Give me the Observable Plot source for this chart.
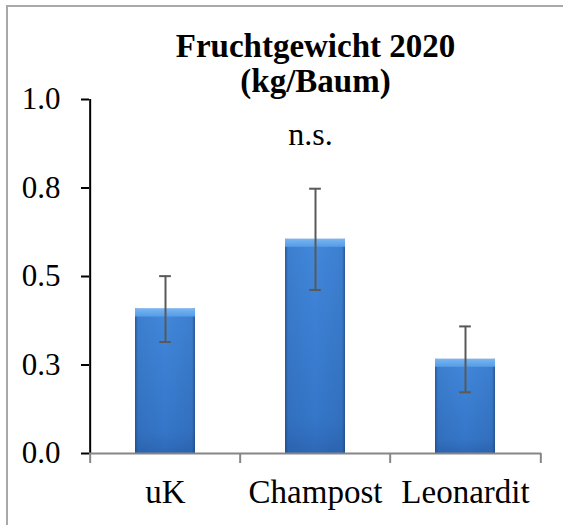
<!DOCTYPE html>
<html>
<head>
<meta charset="utf-8">
<script src="https://cdn.jsdelivr.net/npm/d3@7"></script>
<script src="https://cdn.jsdelivr.net/npm/@observablehq/plot@0.6"></script>
<style>
  html, body { margin: 0; padding: 0; background: #fff; overflow: hidden; }
  #wrap { position: relative; width: 563px; height: 525px; overflow: hidden; background: #fff; }
  #btop { position: absolute; left: 6px; top: 5px; width: 557px; height: 2px; background: #a9a9a9; }
  #bleft { position: absolute; left: 6px; top: 5px; width: 2px; height: 520px; background: #a9a9a9; }
  #wrap svg { position: absolute; left: 0; top: 0; }
</style>
</head>
<body>
<div id="wrap"><div id="btop"></div><div id="bleft"></div></div>
<script>
// ---- data ----
const categories = ["uK", "Champost", "Leonardit"];
const means = [0.408, 0.605, 0.266];
const errors = [0.093, 0.143, 0.093];
const yTicks = [0, 0.25, 0.5, 0.75, 1.0];
const yTickLabels = ["0.0", "0.3", "0.5", "0.8", "1.0"];
const titleLines = ["Fruchtgewicht 2020", "(kg/Baum)"];
const annotation = ["n.s."];
const annotationCategory = "Champost";

const rows = categories.map((c, i) => ({cat: c, mean: means[i], lo: means[i] - errors[i], hi: means[i] + errors[i]}));

// ---- layout ----
const W = 563, H = 525;
const mL = 89, mR = 22, mT = 99, mB = 72;
const padInner = 0.6, padOuter = 0.3;
const font = "Liberation Serif";

const xs = Plot.scale({x: {type: "band", domain: categories, range: [mL, W - mR], paddingInner: padInner, paddingOuter: padOuter}});
const step = xs.step ?? (W - mL - mR) / (categories.length - padInner + 2 * padOuter);
const bw = xs.bandwidth ?? step * (1 - padInner);

const chart = Plot.plot({
  width: W, height: H,
  marginLeft: mL, marginRight: mR, marginTop: mT, marginBottom: mB,
  style: {fontFamily: font, background: "transparent", overflow: "visible"},
  x: {type: "band", domain: categories, paddingInner: padInner, paddingOuter: padOuter, axis: null},
  y: {domain: [0, 1], axis: null},
  marks: [
    // bars
    Plot.barY(rows, {x: "cat", y: "mean", fill: "url(#barV)"}),
    Plot.barY(rows, {x: "cat", y: "mean", fill: "url(#barEdge)"}),
    Plot.barY(rows, {x: "cat", y1: "mean", y2: "mean", insetBottom: -8, fill: "url(#bevel)"}),
    // error bars
    Plot.ruleX(rows, {x: "cat", y1: "lo", y2: "hi", stroke: "#595959", strokeWidth: 2}),
    Plot.tickY(rows, {x: "cat", y: "hi", stroke: "#595959", strokeWidth: 2, insetLeft: (bw - 12) / 2, insetRight: (bw - 12) / 2}),
    Plot.tickY(rows, {x: "cat", y: "lo", stroke: "#595959", strokeWidth: 2, insetLeft: (bw - 12) / 2, insetRight: (bw - 12) / 2}),
    // y axis
    Plot.ruleX([categories[0]], {x: d => d, dx: -step / 2, y1: 0, y2: 1, stroke: "black", strokeWidth: 2}),
    Plot.axisY({ticks: yTicks, tickFormat: (d) => yTickLabels[yTicks.indexOf(d)], tickSize: 8, tickPadding: 21,
                fontSize: 31, fontFamily: font, stroke: "black", strokeWidth: 2, strokeOpacity: 1, fill: "black", label: null}),
    // x axis
    Plot.ruleY([0], {stroke: "#868686", strokeWidth: 2}),
    Plot.ruleX(categories, {x: d => d, dx: -step / 2, y1: () => 0, y2: () => 0, insetBottom: -10, stroke: "#868686", strokeWidth: 2}),
    Plot.ruleX([categories[categories.length - 1]], {x: d => d, dx: step / 2, y1: () => 0, y2: () => 0, insetBottom: -10, stroke: "#868686", strokeWidth: 2}),
    Plot.axisX({tickSize: 0, tickPadding: 26, fontSize: 33, fontFamily: font, fill: "black", label: null}),
    // title
    Plot.text([titleLines[0]], {frameAnchor: "top", lineAnchor: "middle", text: d => d, dy: -53, fontSize: 33, fontFamily: font, fontWeight: "bold", fill: "black"}),
    Plot.text([titleLines[1]], {frameAnchor: "top", lineAnchor: "middle", text: d => d, dy: -18, fontSize: 33, fontFamily: font, fontWeight: "bold", fill: "black"}),
    // annotation
    Plot.text(annotation, {x: () => annotationCategory, y: () => 0.9, lineAnchor: "middle", text: d => d, dx: -5, fontSize: 32, fontFamily: font, fill: "black"})
  ]
});

// gradients
const ns = "http://www.w3.org/2000/svg";
const defs = document.createElementNS(ns, "defs");
defs.innerHTML = `
  <linearGradient id="barV" x1="0" y1="0" x2="0" y2="1">
    <stop offset="0" stop-color="#4288dc"/>
    <stop offset="0.85" stop-color="#3576c8"/>
    <stop offset="1" stop-color="#2d68b6"/>
  </linearGradient>
  <linearGradient id="barEdge" x1="0" y1="0" x2="1" y2="0">
    <stop offset="0" stop-color="#1c3f73" stop-opacity="0.65"/>
    <stop offset="0.05" stop-color="#1c3f73" stop-opacity="0.12"/>
    <stop offset="0.5" stop-color="#1c3f73" stop-opacity="0"/>
    <stop offset="0.95" stop-color="#1c3f73" stop-opacity="0.12"/>
    <stop offset="1" stop-color="#1c3f73" stop-opacity="0.65"/>
  </linearGradient>
  <linearGradient id="bevel" x1="0" y1="0" x2="0" y2="1">
    <stop offset="0" stop-color="#78b6f2"/>
    <stop offset="1" stop-color="#559be6"/>
  </linearGradient>`;
chart.insertBefore(defs, chart.firstChild);
document.getElementById("wrap").appendChild(chart);
</script>
</body>
</html>
